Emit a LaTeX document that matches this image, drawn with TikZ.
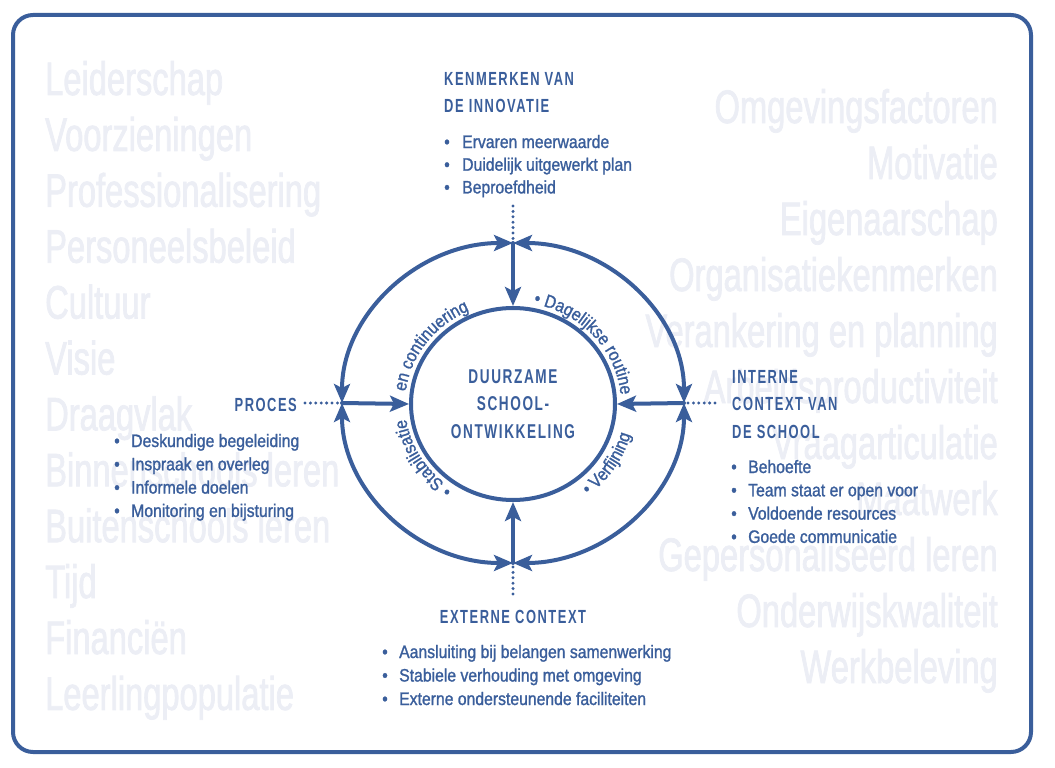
\documentclass[tikz,border=0pt]{standalone}
\usepackage{fontspec}
\setmainfont{Liberation Sans}
\newfontfamily\bgfont[FakeStretch=0.695,FakeBold=1.6]{Liberation Sans}
\newfontfamily\itemfont[FakeStretch=0.875,FakeBold=1.3]{Liberation Sans}
\newfontfamily\headfont[FakeStretch=0.68,LetterSpace=8]{Liberation Sans}
\usetikzlibrary{arrows.meta,shapes.geometric,decorations.text}
\definecolor{schoolblue}{HTML}{3A5E9B}
\definecolor{ghost}{HTML}{ECEEF5}

\begin{document}
\begin{tikzpicture}[x=1pt, y=1pt, line cap=round,
  ringline/.style={schoolblue, line width=4pt},
  >={Stealth[length=19pt,width=16pt,inset=4pt]},
  dotline/.style={schoolblue, line width=3.3pt, dash pattern=on 0pt off 5.4pt, line cap=round},
  ghostword/.style={text=ghost, font=\bgfont\fontsize{47}{47}\selectfont, inner sep=0pt},
  head/.style={text=schoolblue, font=\headfont\bfseries\fontsize{19}{27.5}\selectfont, align=left, inner sep=0pt},
  item/.style={text=schoolblue, font=\itemfont\fontsize{18}{23}\selectfont, inner sep=0pt},
  arcword/.style={decorate, decoration={text along path, text align=left, text color=schoolblue}}]
  \useasboundingbox (0,0) rectangle (1055,-768);
  % background words
  \foreach \i/\w in {0/Leiderschap, 1/Voorzieningen, 2/Professionalisering, 3/Personeelsbeleid, 4/Cultuur, 5/Visie, 6/Draagvlak, 7/Binnenschools leren, 8/Buitenschools leren, 9/Tijd, 10/Financiën, 11/Leerlingpopulatie}
    {\pgfmathsetmacro{\yy}{95+\i*55.9}
     \node[ghostword, anchor=base west] (left-\i) at (45,-\yy) {\w};}
  \foreach \i/\w in {0/Omgevingsfactoren, 1/Motivatie, 2/Eigenaarschap, 3/Organisatiekenmerken, 4/Verankering en planning, 5/Arbeidsproductiviteit, 6/Vraagarticulatie, 7/Maatwerk, 8/Gepersonaliseerd leren, 9/Onderwijskwaliteit, 10/Werkbeleving}
    {\pgfmathsetmacro{\yy}{123+\i*56}
     \node[ghostword, anchor=base east] (right-\i) at (998,-\yy) {\w};}
  % frame
  \draw[schoolblue, line width=4pt, rounded corners=20pt] (13,-15) rectangle (1031,-752);
  % core and ring
  \node[ellipse, draw=schoolblue, line width=4pt, minimum width=204pt, minimum height=192pt, inner sep=0pt,
        text=schoolblue, font=\headfont\bfseries\fontsize{20}{27.5}\selectfont, align=center] (core) at (513,-404) {DUURZAME\\SCHOOL-\\ONTWIKKELING};
  \coordinate (top) at (513,-243);
  \coordinate (bot) at (513,-563);
  \coordinate (lft) at (342,-403);
  \coordinate (rgt) at (684,-403);
  \draw[ringline, <->] (lft) arc[start angle=180, end angle=90, x radius=171, y radius=160];
  \draw[ringline, <->] (top) arc[start angle=90, end angle=0, x radius=171, y radius=160];
  \draw[ringline, <->] (rgt) arc[start angle=0, end angle=-90, x radius=171, y radius=160];
  \draw[ringline, <->] (bot) arc[start angle=-90, end angle=-180, x radius=171, y radius=160];
  \foreach \p/\a in {top/north, bot/south, lft/west, rgt/east}
    \draw[ringline, ->] (\p) -- (core.\a);
  % words on the ring
  \path[arcword, decoration={text={|\itemfont\fontsize{18}{18}\selectfont|• Dagelijkse routine}}]
    ([shift={(79:108 and 102)}]core.center) arc[start angle=79, end angle=-10, x radius=108, y radius=102];
  \path[arcword, decoration={text={|\itemfont\fontsize{18}{18}\selectfont|en continuering}}]
    ([shift={(173:108 and 102)}]core.center) arc[start angle=173, end angle=90, x radius=108, y radius=102];
  \path[arcword, decoration={text={|\itemfont\fontsize{18}{18}\selectfont|• Stabilisatie}}]
    ([shift={(236:108 and 102)}]core.center) arc[start angle=236, end angle=183, x radius=108, y radius=102];
  \path[arcword, decoration={text={|\itemfont\fontsize{18}{18}\selectfont|• Verfijning}}]
    ([shift={(-52:122 and 116)}]core.center) arc[start angle=-52, end angle=-3, x radius=122, y radius=116];
  % kenmerken van de innovatie
  \node[head, anchor=north west] (innov) at (444,-72) {KENMERKEN VAN\\DE INNOVATIE};
  \foreach \i/\t in {0/Ervaren meerwaarde, 1/Duidelijk uitgewerkt plan, 2/Beproefdheid}
    {\pgfmathsetmacro{\yy}{148+\i*22.7}
     \node[item, anchor=base] (innov-dot-\i) at (447,-\yy) {•};
     \node[item, anchor=base west] (innov-\i) at (462,-\yy) {\t};}
  \coordinate (innov-foot) at (513,-206);
  \draw[dotline, shorten >=4pt] (innov-foot) -- (top);
  % proces
  \node[head, anchor=north east] (proces) at (297,-398) {PROCES};
  \foreach \i/\t in {0/Deskundige begeleiding, 1/Inspraak en overleg, 2/Informele doelen, 3/Monitoring en bijsturing}
    {\pgfmathsetmacro{\yy}{447+\i*23.3}
     \node[item, anchor=base] (proces-dot-\i) at (117,-\yy) {•};
     \node[item, anchor=base west] (proces-\i) at (131,-\yy) {\t};}
  \draw[dotline, shorten <=8pt, shorten >=3pt] (proces.east |- lft) -- (lft);
  % interne context
  \node[head, anchor=north west] (intern) at (732,-370) {INTERNE\\CONTEXT VAN\\DE SCHOOL};
  \foreach \i/\t in {0/Behoefte, 1/Team staat er open voor, 2/Voldoende resources, 3/Goede communicatie}
    {\pgfmathsetmacro{\yy}{473+\i*23.3}
     \node[item, anchor=base] (intern-dot-\i) at (734,-\yy) {•};
     \node[item, anchor=base west] (intern-\i) at (748,-\yy) {\t};}
  \draw[dotline, shorten <=4pt, shorten >=12pt] (rgt) -- (rgt -| intern.west);
  % externe context
  \node[head, anchor=north] (extern) at (513,-610) {EXTERNE CONTEXT};
  \foreach \i/\t in {0/Aansluiting bij belangen samenwerking, 1/Stabiele verhouding met omgeving, 2/Externe ondersteunende faciliteiten}
    {\pgfmathsetmacro{\yy}{658+\i*23.5}
     \node[item, anchor=base] (extern-dot-\i) at (385,-\yy) {•};
     \node[item, anchor=base west] (extern-\i) at (399,-\yy) {\t};}
  \draw[dotline, shorten <=4pt, shorten >=14pt] (bot) -- (bot |- extern.north);
\end{tikzpicture}
\end{document}
